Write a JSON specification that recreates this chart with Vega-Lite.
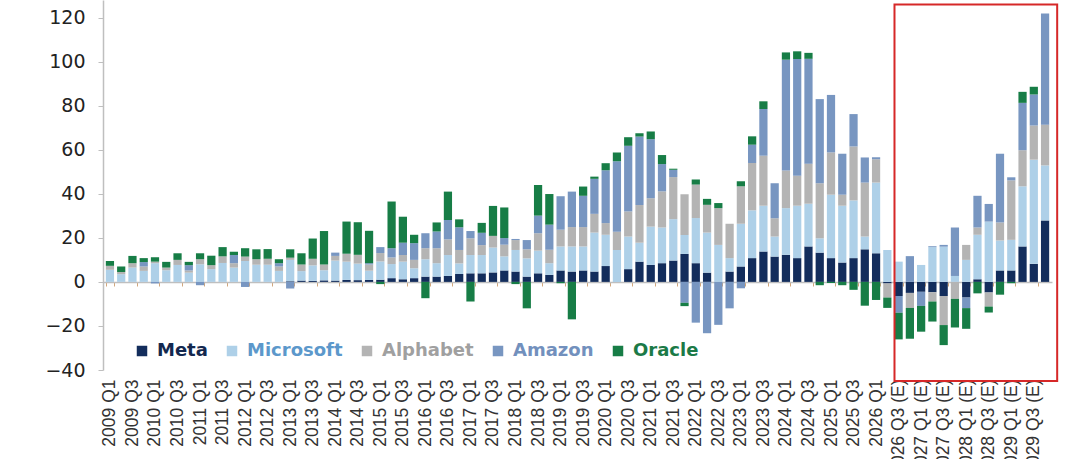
{
  "$schema": "https://vega.github.io/schema/vega-lite/v6.json",
  "width": 949,
  "height": 370,
  "autosize": {"type": "none"},
  "padding": {"left": 103, "top": 0, "right": 28, "bottom": 89},
  "background": "white",
  "config": {"view": {"stroke": null}},
  "datasets": {
    "capex": [
      {"quarter":"2009 Q1","Meta":0,"Microsoft":5.5,"Alphabet":1.8,"Amazon":0,"Oracle":2.2},
      {"quarter":"2009 Q2","Meta":0,"Microsoft":3.5,"Alphabet":1.0,"Amazon":0,"Oracle":2.5},
      {"quarter":"2009 Q3","Meta":0,"Microsoft":6.5,"Alphabet":2.0,"Amazon":0,"Oracle":3.3},
      {"quarter":"2009 Q4","Meta":0,"Microsoft":5.0,"Alphabet":2.0,"Amazon":2.0,"Oracle":1.8},
      {"quarter":"2010 Q1","Meta":0,"Microsoft":8.5,"Alphabet":0.7,"Amazon":-0.7,"Oracle":2.0},
      {"quarter":"2010 Q2","Meta":0,"Microsoft":5.3,"Alphabet":1.2,"Amazon":0,"Oracle":2.6},
      {"quarter":"2010 Q3","Meta":0,"Microsoft":7.7,"Alphabet":2.3,"Amazon":0,"Oracle":3.0},
      {"quarter":"2010 Q4","Meta":0,"Microsoft":4.2,"Alphabet":1.0,"Amazon":2.4,"Oracle":1.5},
      {"quarter":"2011 Q1","Meta":0,"Microsoft":8.0,"Alphabet":2.3,"Amazon":-1.5,"Oracle":2.7},
      {"quarter":"2011 Q2","Meta":0,"Microsoft":5.8,"Alphabet":1.8,"Amazon":0,"Oracle":4.3},
      {"quarter":"2011 Q3","Meta":0,"Microsoft":8.6,"Alphabet":3.0,"Amazon":0,"Oracle":4.2},
      {"quarter":"2011 Q4","Meta":0,"Microsoft":6.5,"Alphabet":2.0,"Amazon":3.7,"Oracle":1.5},
      {"quarter":"2012 Q1","Meta":0,"Microsoft":9.5,"Alphabet":2.0,"Amazon":-2.3,"Oracle":3.8},
      {"quarter":"2012 Q2","Meta":0,"Microsoft":7.8,"Alphabet":2.5,"Amazon":0,"Oracle":4.5},
      {"quarter":"2012 Q3","Meta":0,"Microsoft":7.8,"Alphabet":2.7,"Amazon":0,"Oracle":4.4},
      {"quarter":"2012 Q4","Meta":0,"Microsoft":5.0,"Alphabet":2.0,"Amazon":1.5,"Oracle":1.8},
      {"quarter":"2013 Q1","Meta":0.3,"Microsoft":9.7,"Alphabet":1.0,"Amazon":-3.0,"Oracle":3.8},
      {"quarter":"2013 Q2","Meta":0.6,"Microsoft":4.3,"Alphabet":3.0,"Amazon":0,"Oracle":5.1},
      {"quarter":"2013 Q3","Meta":0.5,"Microsoft":7.0,"Alphabet":3.0,"Amazon":0,"Oracle":9.2},
      {"quarter":"2013 Q4","Meta":0.7,"Microsoft":4.6,"Alphabet":2.6,"Amazon":0,"Oracle":15.2},
      {"quarter":"2014 Q1","Meta":0.6,"Microsoft":9.1,"Alphabet":2.1,"Amazon":1.5,"Oracle":0},
      {"quarter":"2014 Q2","Meta":0.9,"Microsoft":8.3,"Alphabet":3.6,"Amazon":0,"Oracle":14.6},
      {"quarter":"2014 Q3","Meta":0.8,"Microsoft":7.5,"Alphabet":4.0,"Amazon":0,"Oracle":14.8},
      {"quarter":"2014 Q4","Meta":0.9,"Microsoft":4.2,"Alphabet":2.8,"Amazon":0.6,"Oracle":14.7},
      {"quarter":"2015 Q1","Meta":1.0,"Microsoft":8.3,"Alphabet":3.8,"Amazon":2.7,"Oracle":-1.0},
      {"quarter":"2015 Q2","Meta":1.7,"Microsoft":6.4,"Alphabet":3.0,"Amazon":4.2,"Oracle":21.2},
      {"quarter":"2015 Q3","Meta":1.2,"Microsoft":8.0,"Alphabet":3.0,"Amazon":5.6,"Oracle":11.8},
      {"quarter":"2015 Q4","Meta":1.7,"Microsoft":4.5,"Alphabet":3.8,"Amazon":7.6,"Oracle":3.8},
      {"quarter":"2016 Q1","Meta":2.4,"Microsoft":7.9,"Alphabet":5.0,"Amazon":6.8,"Oracle":-7.4},
      {"quarter":"2016 Q2","Meta":2.4,"Microsoft":6.1,"Alphabet":6.8,"Amazon":7.6,"Oracle":4.1},
      {"quarter":"2016 Q3","Meta":2.7,"Microsoft":9.5,"Alphabet":7.1,"Amazon":8.8,"Oracle":12.9},
      {"quarter":"2016 Q4","Meta":3.6,"Microsoft":4.8,"Alphabet":6.1,"Amazon":10.3,"Oracle":3.6},
      {"quarter":"2017 Q1","Meta":3.9,"Microsoft":8.3,"Alphabet":7.6,"Amazon":3.3,"Oracle":-8.9},
      {"quarter":"2017 Q2","Meta":3.9,"Microsoft":8.3,"Alphabet":4.5,"Amazon":5.6,"Oracle":4.5},
      {"quarter":"2017 Q3","Meta":4.3,"Microsoft":11.3,"Alphabet":5.3,"Amazon":0,"Oracle":13.6},
      {"quarter":"2017 Q4","Meta":5.2,"Microsoft":6.4,"Alphabet":5.3,"Amazon":3.0,"Oracle":13.9},
      {"quarter":"2018 Q1","Meta":4.7,"Microsoft":9.8,"Alphabet":4.5,"Amazon":0.5,"Oracle":-1.0},
      {"quarter":"2018 Q2","Meta":2.4,"Microsoft":8.3,"Alphabet":4.1,"Amazon":4.2,"Oracle":-12.0},
      {"quarter":"2018 Q3","Meta":3.9,"Microsoft":10.3,"Alphabet":7.9,"Amazon":8.0,"Oracle":13.9},
      {"quarter":"2018 Q4","Meta":3.2,"Microsoft":5.3,"Alphabet":6.1,"Amazon":11.4,"Oracle":13.9},
      {"quarter":"2019 Q1","Meta":5.2,"Microsoft":10.9,"Alphabet":7.6,"Amazon":15.2,"Oracle":-0.6},
      {"quarter":"2019 Q2","Meta":4.7,"Microsoft":11.4,"Alphabet":8.8,"Amazon":16.1,"Oracle":-17.0},
      {"quarter":"2019 Q3","Meta":5.2,"Microsoft":10.9,"Alphabet":8.8,"Amazon":14.2,"Oracle":4.2},
      {"quarter":"2019 Q4","Meta":4.7,"Microsoft":17.7,"Alphabet":8.5,"Amazon":15.9,"Oracle":1.0},
      {"quarter":"2020 Q1","Meta":7.2,"Microsoft":14.2,"Alphabet":5.3,"Amazon":24.0,"Oracle":3.2},
      {"quarter":"2020 Q2","Meta":0,"Microsoft":14.5,"Alphabet":8.3,"Amazon":32.0,"Oracle":4.0},
      {"quarter":"2020 Q3","Meta":5.8,"Microsoft":14.8,"Alphabet":11.4,"Amazon":29.8,"Oracle":3.9},
      {"quarter":"2020 Q4","Meta":9.2,"Microsoft":8.6,"Alphabet":17.1,"Amazon":31.1,"Oracle":1.5},
      {"quarter":"2021 Q1","Meta":7.7,"Microsoft":17.4,"Alphabet":12.9,"Amazon":26.8,"Oracle":3.5},
      {"quarter":"2021 Q2","Meta":8.5,"Microsoft":16.2,"Alphabet":16.4,"Amazon":12.4,"Oracle":4.1},
      {"quarter":"2021 Q3","Meta":9.7,"Microsoft":18.8,"Alphabet":19.1,"Amazon":3.3,"Oracle":0.5},
      {"quarter":"2021 Q4","Meta":12.7,"Microsoft":8.6,"Alphabet":18.5,"Amazon":-9.5,"Oracle":-1.5},
      {"quarter":"2022 Q1","Meta":8.5,"Microsoft":20.5,"Alphabet":15.2,"Amazon":-18.5,"Oracle":2.3},
      {"quarter":"2022 Q2","Meta":4.2,"Microsoft":18.2,"Alphabet":12.6,"Amazon":-23.3,"Oracle":2.7},
      {"quarter":"2022 Q3","Meta":0,"Microsoft":16.8,"Alphabet":16.7,"Amazon":-19.5,"Oracle":2.3},
      {"quarter":"2022 Q4","Meta":4.7,"Microsoft":6.1,"Alphabet":15.6,"Amazon":-12.0,"Oracle":0},
      {"quarter":"2023 Q1","Meta":7.0,"Microsoft":19.4,"Alphabet":17.0,"Amazon":-2.9,"Oracle":2.3},
      {"quarter":"2023 Q2","Meta":10.8,"Microsoft":21.7,"Alphabet":21.5,"Amazon":8.3,"Oracle":3.8},
      {"quarter":"2023 Q3","Meta":13.8,"Microsoft":20.8,"Alphabet":22.7,"Amazon":21.2,"Oracle":3.5},
      {"quarter":"2023 Q4","Meta":11.5,"Microsoft":9.1,"Alphabet":8.3,"Amazon":15.9,"Oracle":0},
      {"quarter":"2024 Q1","Meta":12.3,"Microsoft":21.2,"Alphabet":17.1,"Amazon":50.3,"Oracle":3.3},
      {"quarter":"2024 Q2","Meta":10.8,"Microsoft":23.8,"Alphabet":13.6,"Amazon":53.0,"Oracle":3.5},
      {"quarter":"2024 Q3","Meta":16.1,"Microsoft":19.4,"Alphabet":18.2,"Amazon":47.6,"Oracle":2.7},
      {"quarter":"2024 Q4","Meta":13.3,"Microsoft":6.5,"Alphabet":25.0,"Amazon":38.2,"Oracle":-1.5},
      {"quarter":"2025 Q1","Meta":10.8,"Microsoft":28.8,"Alphabet":19.2,"Amazon":26.1,"Oracle":-0.5},
      {"quarter":"2025 Q2","Meta":8.8,"Microsoft":25.8,"Alphabet":5.0,"Amazon":18.6,"Oracle":-1.5},
      {"quarter":"2025 Q3","Meta":10.8,"Microsoft":26.2,"Alphabet":24.5,"Amazon":14.7,"Oracle":-3.6},
      {"quarter":"2025 Q4","Meta":14.8,"Microsoft":5.8,"Alphabet":24.5,"Amazon":11.4,"Oracle":-10.8},
      {"quarter":"2026 Q1","Meta":13.0,"Microsoft":32.1,"Alphabet":10.6,"Amazon":0.9,"Oracle":-8.2},
      {"quarter":"2026 Q2","Meta":-0.7,"Microsoft":14.5,"Alphabet":-6.4,"Amazon":0,"Oracle":-4.7},
      {"quarter":"2026 Q3 (E)","Meta":-6.4,"Microsoft":9.2,"Alphabet":0,"Amazon":-7.6,"Oracle":-12.1},
      {"quarter":"2026 Q4 (E)","Meta":-5.0,"Microsoft":0,"Alphabet":-6.8,"Amazon":11.7,"Oracle":-14.0},
      {"quarter":"2027 Q1 (E)","Meta":-4.5,"Microsoft":7.7,"Alphabet":0,"Amazon":-6.4,"Oracle":-11.7},
      {"quarter":"2027 Q2 (E)","Meta":-4.7,"Microsoft":15.8,"Alphabet":-4.2,"Amazon":0.4,"Oracle":-9.1},
      {"quarter":"2027 Q3 (E)","Meta":-6.4,"Microsoft":16.0,"Alphabet":-13.2,"Amazon":0.8,"Oracle":-9.1},
      {"quarter":"2027 Q4 (E)","Meta":0,"Microsoft":2.7,"Alphabet":-7.7,"Amazon":22.0,"Oracle":-13.0},
      {"quarter":"2028 Q1 (E)","Meta":-7.1,"Microsoft":10.0,"Alphabet":6.8,"Amazon":-4.8,"Oracle":-9.4},
      {"quarter":"2028 Q2 (E)","Meta":1.2,"Microsoft":20.2,"Alphabet":3.3,"Amazon":14.4,"Oracle":-5.2},
      {"quarter":"2028 Q3 (E)","Meta":-4.8,"Microsoft":27.4,"Alphabet":-6.4,"Amazon":8.0,"Oracle":-2.7},
      {"quarter":"2028 Q4 (E)","Meta":5.2,"Microsoft":13.6,"Alphabet":8.2,"Amazon":31.2,"Oracle":-5.8},
      {"quarter":"2029 Q1 (E)","Meta":5.2,"Microsoft":13.9,"Alphabet":27.0,"Amazon":1.4,"Oracle":-0.6},
      {"quarter":"2029 Q2 (E)","Meta":16.1,"Microsoft":27.3,"Alphabet":16.4,"Amazon":21.5,"Oracle":5.0},
      {"quarter":"2029 Q3 (E)","Meta":8.2,"Microsoft":47.3,"Alphabet":15.5,"Amazon":14.1,"Oracle":3.5},
      {"quarter":"2029 Q4 (E)","Meta":27.9,"Microsoft":25.0,"Alphabet":18.5,"Amazon":50.5,"Oracle":0}
    ],
    "series": [
      {"company":"Meta","rank":1},
      {"company":"Microsoft","rank":2},
      {"company":"Alphabet","rank":3},
      {"company":"Amazon","rank":4},
      {"company":"Oracle","rank":5}
    ]
  },
  "layer": [
    {
      "data": {"name": "capex"},
      "transform": [
        {"fold": ["Meta","Microsoft","Alphabet","Amazon","Oracle"], "as": ["company","value"]},
        {"lookup": "company", "from": {"data": {"name": "series"}, "key": "company", "fields": ["rank"]}}
      ],
      "mark": {"type": "bar"},
      "encoding": {
        "x": {
          "field": "quarter", "type": "nominal", "sort": null,
          "scale": {"paddingInner": 0.27, "paddingOuter": 0.25},
          "axis": {
            "orient": "bottom", "offset": -88, "title": null,
            "values": ["2009 Q1","2009 Q3","2010 Q1","2010 Q3","2011 Q1","2011 Q3","2012 Q1","2012 Q3","2013 Q1","2013 Q3","2014 Q1","2014 Q3","2015 Q1","2015 Q3","2016 Q1","2016 Q3","2017 Q1","2017 Q3","2018 Q1","2018 Q3","2019 Q1","2019 Q3","2020 Q1","2020 Q3","2021 Q1","2021 Q3","2022 Q1","2022 Q3","2023 Q1","2023 Q3","2024 Q1","2024 Q3","2025 Q1","2025 Q3","2026 Q1","2026 Q3 (E)","2027 Q1 (E)","2027 Q3 (E)","2028 Q1 (E)","2028 Q3 (E)","2029 Q1 (E)","2029 Q3 (E)"],
            "labelAngle": -90, "labelAlign": "right", "labelBaseline": "middle",
            "labelPadding": 93, "labelFont": "Liberation Sans", "labelFontSize": 17.5,
            "labelColor": "#333333", "labelOverlap": false, "labelBound": false, "labelLimit": 200,
            "domainColor": "#bfbfbf", "domainWidth": 1.5,
            "tickColor": "#d2a77c", "tickSize": 4, "tickBand": "extent", "grid": false
          }
        },
        "y": {
          "field": "value", "type": "quantitative", "stack": "zero",
          "scale": {"domain": [-40, 128], "nice": false, "zero": false},
          "axis": {
            "title": null, "values": [-40,-20,0,20,40,60,80,100,120], "grid": false,
            "labelFont": "DejaVu Sans", "labelFontSize": 19, "labelColor": "#222222", "labelPadding": 13,
            "tickSize": 5, "tickColor": "#bfbfbf", "domainColor": "#bfbfbf", "domainWidth": 1.5
          }
        },
        "color": {
          "field": "company", "type": "nominal",
          "scale": {
            "domain": ["Meta","Microsoft","Alphabet","Amazon","Oracle"],
            "range": ["#132d5c","#aed0e8","#b4b4b4","#7896c1","#177d46"]
          },
          "legend": {
            "orient": "none", "legendX": 30, "legendY": 342, "direction": "horizontal",
            "title": null, "padding": 0, "symbolType": "square", "symbolSize": 110, "symbolStrokeWidth": 0,
            "labelFont": "DejaVu Sans", "labelFontSize": 18, "labelFontWeight": "bold",
            "labelOffset": 6, "columnPadding": 15, "labelLimit": 300,
            "labelColor": {"expr": "datum.value == 'Meta' ? '#13284f' : datum.value == 'Microsoft' ? '#5c98cb' : datum.value == 'Alphabet' ? '#a0a0a0' : datum.value == 'Amazon' ? '#7290bd' : '#1b7a47'"}
          }
        },
        "order": {"field": "rank", "type": "quantitative", "sort": "ascending"}
      }
    },
    {
      "data": {"values": [{"note": "estimates"}]},
      "mark": {"type": "rect", "filled": false, "stroke": "#d62828", "strokeWidth": 2, "x2Offset": 8},
      "encoding": {
        "x": {"datum": "2026 Q3 (E)", "bandPosition": 0},
        "x2": {"datum": "2029 Q4 (E)", "bandPosition": 1},
        "y": {"datum": 126},
        "y2": {"datum": -45}
      }
    }
  ]
}
